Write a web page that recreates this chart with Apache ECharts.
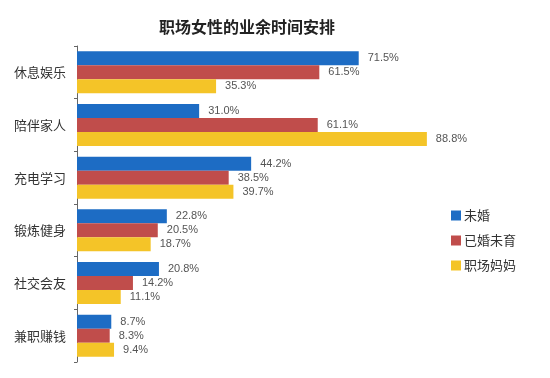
<!DOCTYPE html>
<html>
<head>
<meta charset="utf-8">
<script src="https://cdn.jsdelivr.net/npm/echarts@6/dist/echarts.min.js"></script>
<style>
  html, body { margin: 0; padding: 0; background: #fff; }
  #chart { width: 550px; height: 378px; }
</style>
</head>
<body>
<div id="chart"></div>
<script>
  // 分类与数据
  const categories = ["休息娱乐", "陪伴家人", "充电学习", "锻炼健身", "社交会友", "兼职赚钱"];
  const seriesNames = ["未婚", "已婚未育", "职场妈妈"];
  const unmarried = [71.5, 31.0, 44.2, 22.8, 20.8, 8.7];
  const marriedNoKids = [61.5, 61.1, 38.5, 20.5, 14.2, 8.3];
  const workingMoms = [35.3, 88.8, 39.7, 18.7, 11.1, 9.4];
  const colors = ["#1d6cc4", "#c04d4b", "#f4c428"];

  const chart = echarts.init(document.getElementById("chart"), null, { renderer: "canvas" });

  const makeSeries = (name, data, color) => ({
    name: name,
    type: "bar",
    data: data,
    barWidth: 14,
    barGap: "0%",
    itemStyle: { color: color },
    label: {
      show: true,
      position: "right",
      distance: 9,
      formatter: (p) => p.value.toFixed(1) + "%",
      color: "#555",
      fontSize: 11,
      fontFamily: "Liberation Sans",
    },
  });

  chart.setOption({
    animation: false,
    title: {
      text: "职场女性的业余时间安排",
      left: 242,
      textAlign: "center",
      top: 14,
      textStyle: {
        fontSize: 16,
        fontWeight: "bold",
        color: "#222",
        fontFamily: "Noto Sans CJK SC",
      },
    },
    legend: {
      orient: "vertical",
      left: 446,
      top: 204,
      itemWidth: 10,
      itemHeight: 10,
      itemGap: 12,
      icon: "rect",
      data: seriesNames,
      textStyle: {
        fontSize: 13,
        color: "#333",
        fontFamily: "Noto Sans CJK SC",
        padding: [0, 0, 0, -2],
      },
    },
    grid: {
      left: 77,
      right: 79,
      top: 46,
      bottom: 16,
    },
    xAxis: {
      type: "value",
      min: 0,
      max: 100,
      show: false,
    },
    yAxis: {
      type: "category",
      data: categories,
      inverse: true,
      offset: 3,
      axisLine: { lineStyle: { color: "#666", width: 1 } },
      axisTick: { show: true, length: 3, lineStyle: { color: "#666" } },
      axisLabel: {
        margin: 8,
        fontSize: 13,
        color: "#333",
        fontFamily: "Noto Sans CJK SC",
      },
    },
    series: [
      makeSeries(seriesNames[0], unmarried, colors[0]),
      makeSeries(seriesNames[1], marriedNoKids, colors[1]),
      makeSeries(seriesNames[2], workingMoms, colors[2]),
    ],
  });
</script>
</body>
</html>
